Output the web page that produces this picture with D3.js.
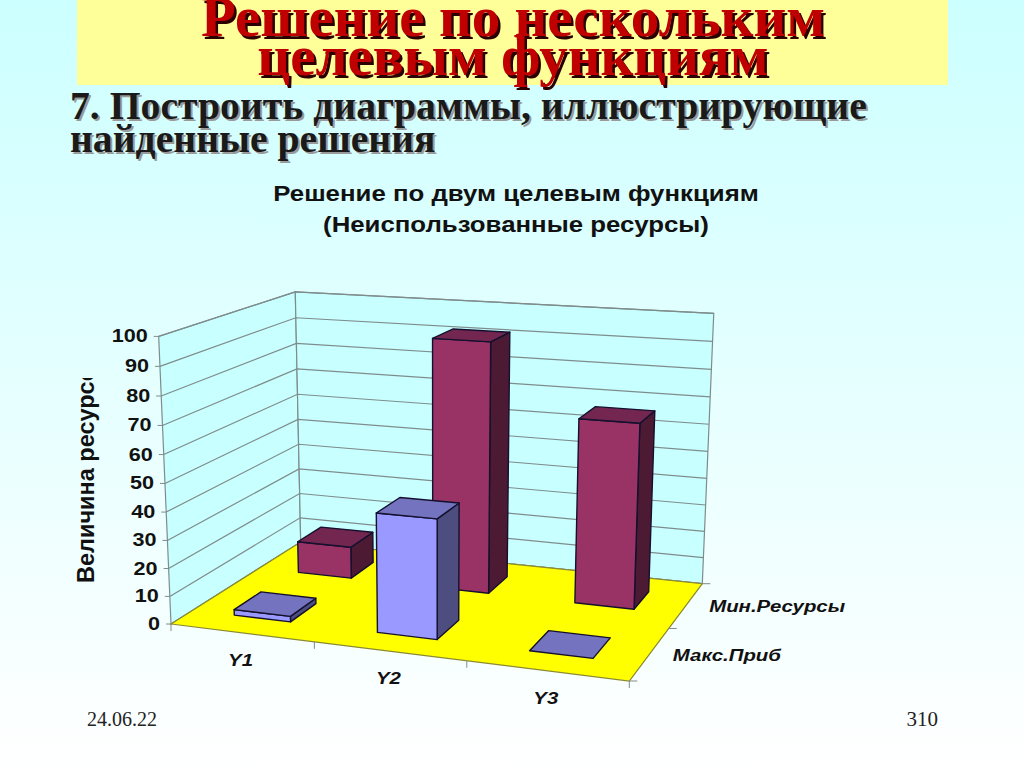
<!DOCTYPE html>
<html><head><meta charset="utf-8">
<script src="https://cdn.jsdelivr.net/npm/d3@7"></script>
<style>html,body{margin:0;padding:0;background:#fff;overflow:hidden}svg{display:block}</style>
</head><body><svg id="c" width="1024" height="768"></svg>
<script>
const categories = ["Y1","Y2","Y3"];
const seriesNames = ["Макс.Приб","Мин.Ресурсы"];
const maxProfit = [2, 42, 0];
const minResources = [12, 92, 67];
const valueTicks = d3.range(0,101,10);
const titleLines = ["Решение по нескольким","целевым функциям"];
const subtitleLines = ["7. Построить диаграммы, иллюстрирующие","найденные решения"];
const chartTitleLines = ["Решение по двум целевым функциям","(Неиспользованные ресурсы)"];

const svg = d3.select("#c");
const defs = svg.append("defs");
const g = defs.append("linearGradient").attr("id","bg").attr("x1",0).attr("y1",0).attr("x2",0).attr("y2",1);
g.append("stop").attr("offset",0).attr("stop-color","#ccffff");
g.append("stop").attr("offset",1).attr("stop-color","#ffffff");
svg.append("rect").attr("width",1024).attr("height",768).attr("fill","url(#bg)");
svg.append("rect").attr("x",77).attr("y",0).attr("width",871).attr("height",85).attr("fill","#ffff99");

function stretched(text,x,y,size,anchor,fill,shadow,sdx){
  const t=(px,py,f)=>svg.append("text").text(text)
    .attr("x",px).attr("y",py)
    .attr("text-anchor",anchor).attr("font-family","Liberation Serif").attr("font-weight","bold")
    .attr("font-size",size).attr("fill",f);
  t(x+sdx,y+sdx,shadow);
  t(x,y,fill);
}
stretched(titleLines[0],513,36,57,"middle","#c00000","#2a0000",2.5);
stretched(titleLines[1],513,75,57,"middle","#c00000","#2a0000",2.5);
stretched(subtitleLines[0],70,119,39.7,"start","#1a1a1a","#9a9a9a",2);
stretched(subtitleLines[1],70,152,39.7,"start","#1a1a1a","#9a9a9a",2);

// ---- projection calibration: unit cube (u across, v depth, w up) -> screen
const corners = {floor:[[171,624],[629.3,681],[702.3,583.7],[300.7,542]],
  up:[[0,0,158.7,336.7],[0,1,295.3,291],[1,1,713.7,314]]};
function solve(A,b){const n=b.length,M=A.map((r,i)=>[...r,b[i]]);
  for(let i=0;i<n;i++){let p=i;for(let k=i+1;k<n;k++)if(Math.abs(M[k][i])>Math.abs(M[p][i]))p=k;
    [M[i],M[p]]=[M[p],M[i]];
    for(let k=0;k<n;k++)if(k!==i){const f=M[k][i]/M[i][i];for(let j=i;j<=n;j++)M[k][j]-=f*M[i][j];}}
  return M.map((r,i)=>r[n]/r[i]);}
const uv=[[0,0],[1,0],[1,1],[0,1]],A8=[],b8=[];
uv.forEach(([u,v],i)=>{const [x,y]=corners.floor[i];
  A8.push([u,v,1,0,0,0,-u*x,-v*x]);b8.push(x);
  A8.push([0,0,0,u,v,1,-u*y,-v*y]);b8.push(y);});
const h=solve(A8,b8);
const rows=[],rhs=[];
corners.up.forEach(([u,v,x,y])=>{
  const d=h[6]*u+h[7]*v+1;
  rows.push([1,0,-x]);rhs.push(x*d-(h[0]*u+h[1]*v+h[2]));
  rows.push([0,1,-y]);rhs.push(y*d-(h[3]*u+h[4]*v+h[5]));});
const AtA=[0,1,2].map(i=>[0,1,2].map(j=>d3.sum(rows,r=>r[i]*r[j])));
const Atb=[0,1,2].map(i=>d3.sum(rows,(r,k)=>r[i]*rhs[k]));
const wc=solve(AtA,Atb);
function P(u,v,w){const d=h[6]*u+h[7]*v+1+wc[2]*w;
  return [(h[0]*u+h[1]*v+h[2]+wc[0]*w)/d,(h[3]*u+h[4]*v+h[5]+wc[1]*w)/d];}

const xS=d3.scaleBand().domain(categories).range([0,1]).paddingInner(0.6).paddingOuter(0.3);
const dS=d3.scaleBand().domain(seriesNames).range([0,1]).paddingInner(0.6).paddingOuter(0.3);
const xAxisS=d3.scaleBand().domain(categories).range([0,1]);
const dAxisS=d3.scaleBand().domain(seriesNames).range([0,1]);
const zS=d3.scaleLinear().domain([0,100]).range([0,1]);
const poly=pts=>d3.line()(pts)+"Z";

const wide=(t,x,y,size,anchor,italic)=>svg.append("text").text(t)
  .attr("transform",`translate(${x},${y}) scale(1.2,1)`).attr("text-anchor",anchor||"start")
  .attr("font-family","Liberation Sans").attr("font-weight","bold")
  .attr("font-style",italic?"italic":"normal").attr("font-size",size).attr("fill","#111");

const wallC="#c8ffff", gridC="#7f8c8c";
const plot=svg.append("g");
plot.append("path").attr("d",poly([P(0,0,0),P(0,1,0),P(0,1,1),P(0,0,1)])).attr("fill",wallC).attr("stroke",gridC).attr("stroke-width",1.2);
plot.append("path").attr("d",poly([P(0,1,0),P(1,1,0),P(1,1,1),P(0,1,1)])).attr("fill",wallC).attr("stroke",gridC).attr("stroke-width",1.2);
valueTicks.forEach(t=>{const w=zS(t);
  plot.append("path").attr("d",d3.line()([P(0,0,w),P(0,1,w),P(1,1,w)])).attr("fill","none").attr("stroke",gridC).attr("stroke-width",1.2);
  const a=P(0,0,w);
  plot.append("line").attr("x1",a[0]-5).attr("y1",a[1]).attr("x2",a[0]).attr("y2",a[1]).attr("stroke",gridC);
  wide(t,a[0]-11,a[1]+6,18,"end");
});
plot.append("path").attr("d",poly([P(0,0,0),P(1,0,0),P(1,1,0),P(0,1,0)])).attr("fill","#ffff00").attr("stroke","#8a8a30").attr("stroke-width",1.2);
d3.range(0,4).forEach(i=>{const a=P(i/3,0,0);
  plot.append("line").attr("x1",a[0]).attr("y1",a[1]).attr("x2",a[0]).attr("y2",a[1]+7).attr("stroke",gridC);});
d3.range(0,3).forEach(i=>{const a=P(1,i/2,0);
  plot.append("line").attr("x1",a[0]).attr("y1",a[1]).attr("x2",a[0]+8).attr("y2",a[1]).attr("stroke",gridC);});

const palette={"Макс.Приб":["#9999ff","#7373bf","#4d4d80"],"Мин.Ресурсы":["#993366","#732650","#4d1a33"]};
const seriesValues={"Макс.Приб":maxProfit,"Мин.Ресурсы":minResources};
[...seriesNames].reverse().forEach(s=>{
  categories.forEach((c,i)=>{
    const u0=xS(c),u1=u0+xS.bandwidth(),v0=dS(s),v1=v0+dS.bandwidth(),w=zS(seriesValues[s][i]);
    const cols=palette[s],bar=plot.append("g").attr("stroke","#14102e").attr("stroke-width",1.4).attr("stroke-linejoin","round");
    if(w>0){
      bar.append("path").attr("d",poly([P(u1,v0,0),P(u1,v1,0),P(u1,v1,w),P(u1,v0,w)])).attr("fill",cols[2]);
      bar.append("path").attr("d",poly([P(u0,v0,0),P(u1,v0,0),P(u1,v0,w),P(u0,v0,w)])).attr("fill",cols[0]);
    }
    bar.append("path").attr("d",poly([P(u0,v0,w),P(u1,v0,w),P(u1,v1,w),P(u0,v1,w)])).attr("fill",cols[1]);
  });
});

categories.forEach(c=>{const a=P(xAxisS(c)+xAxisS.bandwidth()/2,0,0);
  wide(c,a[0]-1,a[1]+33,17,"middle",true);});
seriesNames.forEach(s=>{const a=P(1,dAxisS(s)+dAxisS.bandwidth()/2,0);
  wide(s,a[0]+23,a[1]+7,17,"start",true);});

chartTitleLines.forEach((t,i)=>wide(t,516,201+i*31,21.5,"middle"));

defs.append("clipPath").attr("id","yclip").append("rect").attr("x",60).attr("y",378).attr("width",50).attr("height",220);
svg.append("g").attr("clip-path","url(#yclip)").append("text").text("Величина ресурсов")
  .attr("transform","translate(93.5,583) rotate(-90)")
  .attr("font-family","Liberation Sans").attr("font-weight","bold").attr("font-size",23.5).attr("fill","#111");

svg.append("text").text("24.06.22").attr("x",87).attr("y",726).attr("font-family","Liberation Serif").attr("font-size",20).attr("fill","#222");
svg.append("text").text("310").attr("x",938).attr("y",726).attr("text-anchor","end").attr("font-family","Liberation Serif").attr("font-size",21).attr("fill","#222");
</script></body></html>
